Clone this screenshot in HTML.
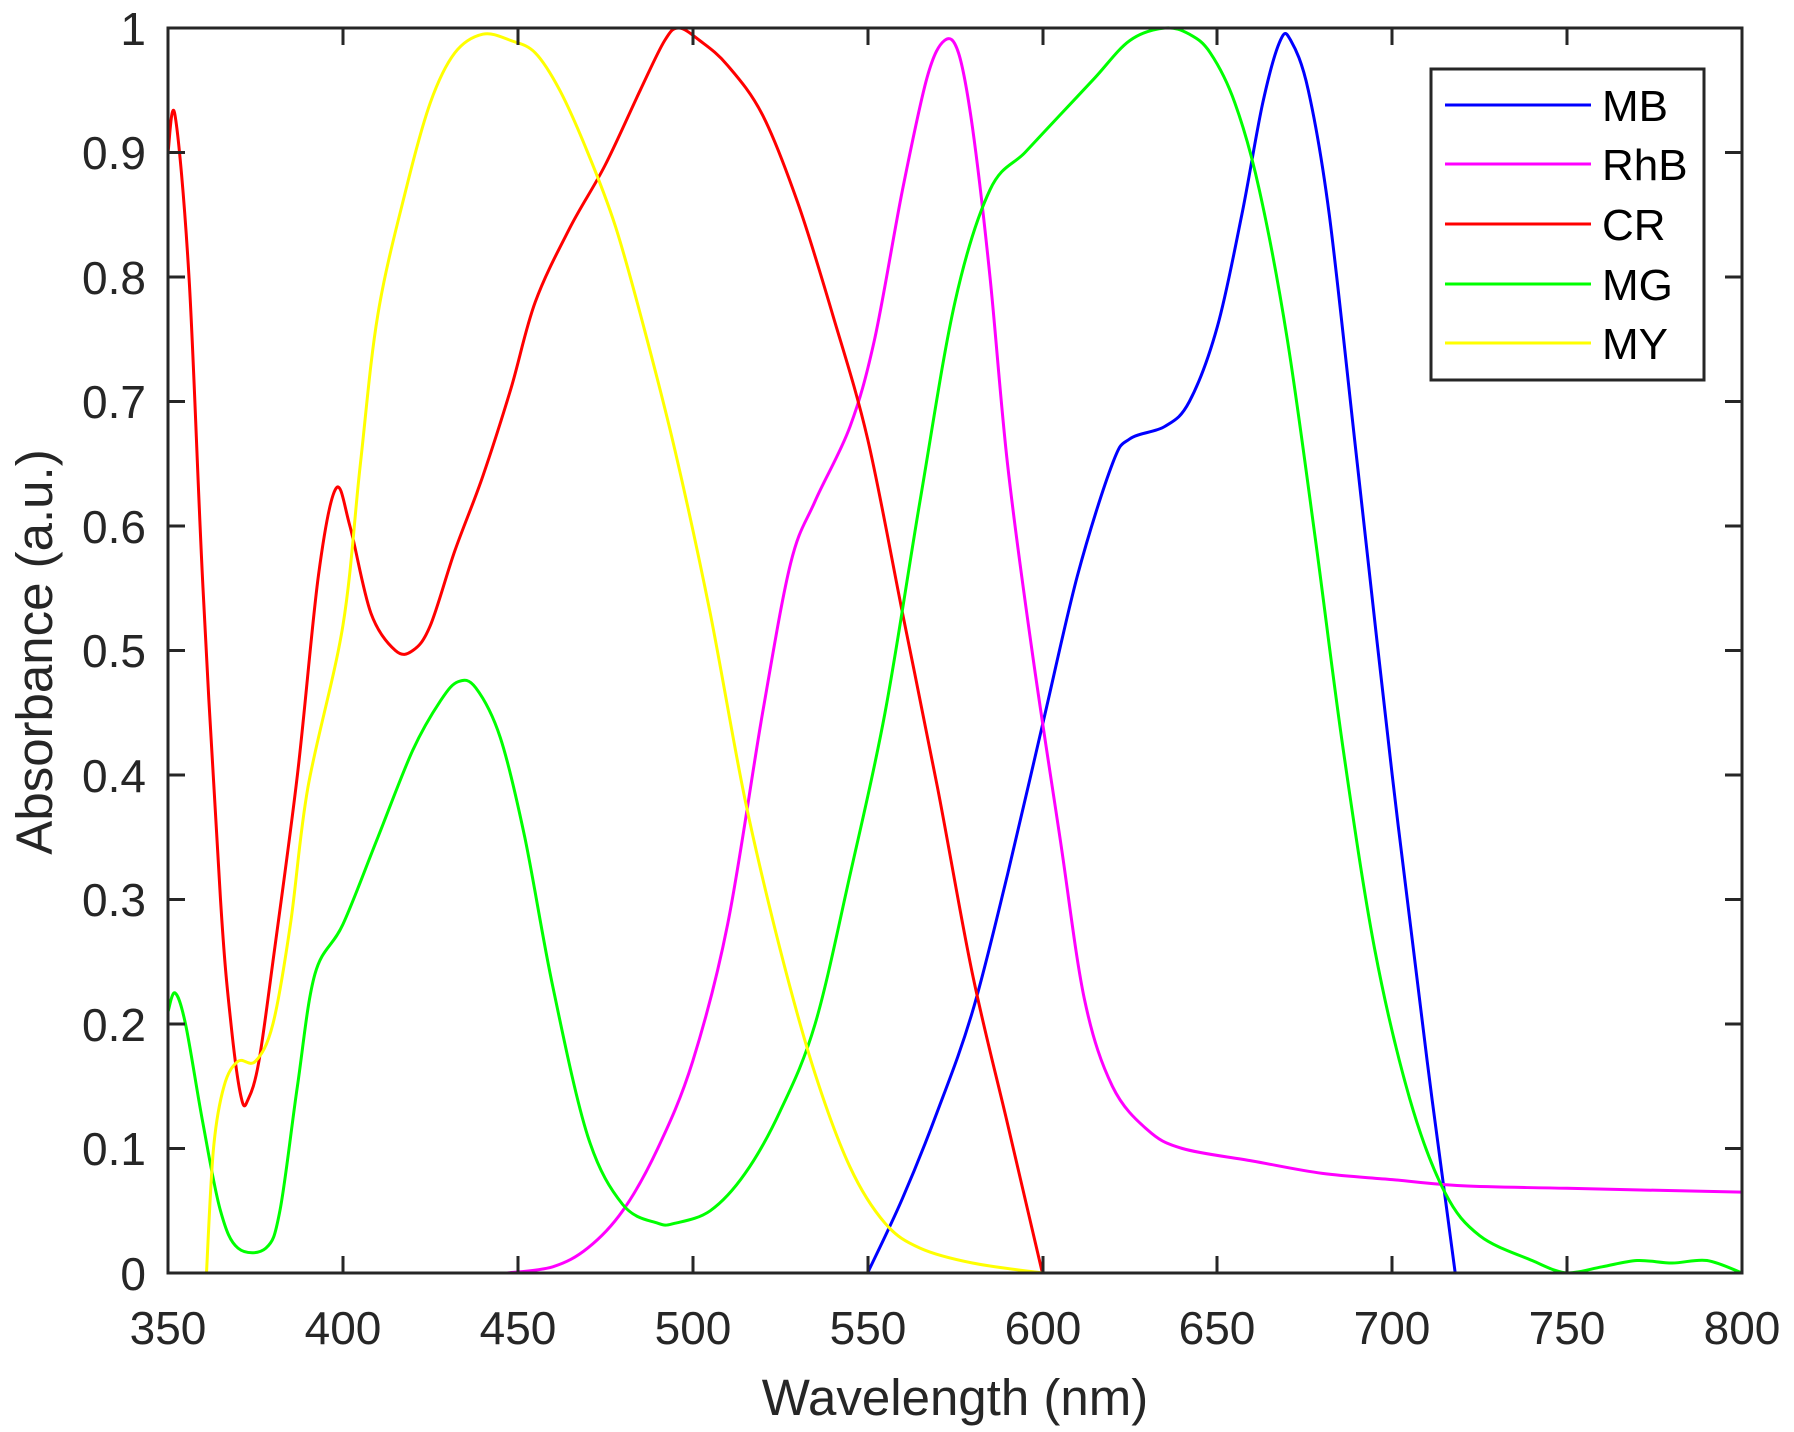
<!DOCTYPE html>
<html><head><meta charset="utf-8"><style>
html,body{margin:0;padding:0;background:#fff;}
svg{display:block;font-family:"Liberation Sans",Arial,sans-serif;}
</style></head><body>
<svg id="s" width="1794" height="1432" viewBox="0 0 1794 1432" xmlns="http://www.w3.org/2000/svg">
<rect width="1794" height="1432" fill="#fff"/>
<g id="curves" fill="none" stroke-width="3" stroke-linejoin="round">
<polyline data-c="#0000ff" stroke="#0000ff" points="200,0 210,0.06 220,0.13 230,0.21 240,0.32 250,0.44 260,0.56 270,0.65 275,0.67 285,0.68 292,0.70 300,0.76 307,0.85 313,0.94 318,0.99 321,0.99 326,0.95 332,0.85 340,0.65 350,0.40 360,0.17 368,0"/>
<polyline stroke="#ff00ff" points="97,0 110,0.005 120,0.02 130,0.05 140,0.10 150,0.17 160,0.28 170,0.45 178,0.57 185,0.62 195,0.68 202,0.75 210,0.87 217,0.96 222,0.99 226,0.98 230,0.92 235,0.80 240,0.65 247,0.50 255,0.35 262,0.22 270,0.15 280,0.115 290,0.10 310,0.09 330,0.08 350,0.075 370,0.07 400,0.068 450,0.065"/>
<polyline stroke="#ff0000" points="0,0.90 2,0.93 6,0.80 10,0.55 15,0.30 18,0.20 21,0.14 23,0.14 26,0.17 30,0.25 37,0.40 43,0.56 48,0.63 52,0.60 58,0.53 65,0.50 70,0.50 75,0.52 82,0.58 90,0.64 98,0.71 105,0.78 115,0.84 125,0.89 135,0.95 142,0.99 146,1.0 152,0.99 160,0.97 170,0.93 180,0.86 190,0.77 200,0.67 210,0.53 220,0.39 230,0.24 240,0.12 250,0"/>
<polyline stroke="#00ff00" points="0,0.21 2,0.225 5,0.20 10,0.12 15,0.05 20,0.02 28,0.02 32,0.05 37,0.15 42,0.24 50,0.28 60,0.35 70,0.42 78,0.46 83,0.475 88,0.47 95,0.43 102,0.35 110,0.23 120,0.11 130,0.055 140,0.04 145,0.04 155,0.05 165,0.08 175,0.13 185,0.20 195,0.32 205,0.45 215,0.62 225,0.78 235,0.87 245,0.90 255,0.93 265,0.96 275,0.99 285,1.0 292,0.995 298,0.98 305,0.94 312,0.87 320,0.75 328,0.59 336,0.42 345,0.26 355,0.14 365,0.065 375,0.03 390,0.01 400,0.0 410,0.005 420,0.01 430,0.008 440,0.01 450,0"/>
<polyline stroke="#ffff00" points="11,0 13,0.1 16,0.15 20,0.17 25,0.17 30,0.20 35,0.28 40,0.39 50,0.52 55,0.65 60,0.77 68,0.87 75,0.94 82,0.98 90,0.995 98,0.99 105,0.98 112,0.95 120,0.90 128,0.84 136,0.76 145,0.66 155,0.53 165,0.38 175,0.26 185,0.16 195,0.085 205,0.04 215,0.02 230,0.008 250,0"/>
</g>
<g stroke="#262626" stroke-width="3" fill="none">
<rect x="168" y="28" width="1574" height="1245"/>
<path d="M343,1273v-17M518,1273v-17M693,1273v-17M868,1273v-17M1043,1273v-17M1217,1273v-17M1392,1273v-17M1567,1273v-17
M343,28v17M518,28v17M693,28v17M868,28v17M1043,28v17M1217,28v17M1392,28v17M1567,28v17
M168,1148.5h17M168,1024h17M168,899.5h17M168,775h17M168,650.5h17M168,526h17M168,401.5h17M168,277h17M168,152.5h17
M1742,1148.5h-17M1742,1024h-17M1742,899.5h-17M1742,775h-17M1742,650.5h-17M1742,526h-17M1742,401.5h-17M1742,277h-17M1742,152.5h-17"/>
</g>
<g fill="#262626" font-size="46" text-anchor="middle">
<text x="168" y="1344">350</text><text x="343" y="1344">400</text><text x="518" y="1344">450</text><text x="693" y="1344">500</text><text x="868" y="1344">550</text><text x="1043" y="1344">600</text><text x="1217" y="1344">650</text><text x="1392" y="1344">700</text><text x="1567" y="1344">750</text><text x="1742" y="1344">800</text>
</g>
<g fill="#262626" font-size="46" text-anchor="end">
<text x="146" y="1290">0</text><text x="146" y="1165">0.1</text><text x="146" y="1041">0.2</text><text x="146" y="916">0.3</text><text x="146" y="792">0.4</text><text x="146" y="667">0.5</text><text x="146" y="543">0.6</text><text x="146" y="418">0.7</text><text x="146" y="294">0.8</text><text x="146" y="169">0.9</text><text x="146" y="45">1</text>
</g>
<text x="955" y="1415" fill="#262626" font-size="51" text-anchor="middle">Wavelength (nm)</text>
<text transform="translate(52,652) rotate(-90)" fill="#262626" font-size="51" text-anchor="middle">Absorbance (a.u.)</text>
<rect x="1431" y="69" width="273" height="311" fill="#fff" stroke="#262626" stroke-width="3"/>
<g stroke-width="3">
<line x1="1445" y1="105" x2="1591" y2="105" stroke="#0000ff"/>
<line x1="1445" y1="164" x2="1591" y2="164" stroke="#ff00ff"/>
<line x1="1445" y1="224" x2="1591" y2="224" stroke="#ff0000"/>
<line x1="1445" y1="284" x2="1591" y2="284" stroke="#00ff00"/>
<line x1="1445" y1="343" x2="1591" y2="343" stroke="#ffff00"/>
</g>
<g fill="#000" font-size="44">
<text x="1602" y="121">MB</text><text x="1602" y="180">RhB</text><text x="1602" y="240">CR</text><text x="1602" y="300">MG</text><text x="1602" y="359">MY</text>
</g>
</svg>
<script>
(function(){
var NS="http://www.w3.org/2000/svg";
var pls=document.querySelectorAll("#curves polyline");
pls.forEach(function(pl){
  var pts=pl.getAttribute("points").trim().split(/\s+/).map(function(s){var a=s.split(",");return [168+(+a[0])*3.4978,1273-(+a[1])*1245];});
  var d="M"+pts[0][0].toFixed(1)+","+pts[0][1].toFixed(1);
  for(var i=0;i<pts.length-1;i++){
    var p0=pts[i-1]||pts[i],p1=pts[i],p2=pts[i+1],p3=pts[i+2]||p2;
    var c1x=p1[0]+(p2[0]-p0[0])/6,c1y=p1[1]+(p2[1]-p0[1])/6;
    var c2x=p2[0]-(p3[0]-p1[0])/6,c2y=p2[1]-(p3[1]-p1[1])/6;
    c1y=Math.min(c1y,1273);c2y=Math.min(c2y,1273);
    d+="C"+c1x.toFixed(1)+","+c1y.toFixed(1)+" "+c2x.toFixed(1)+","+c2y.toFixed(1)+" "+p2[0].toFixed(1)+","+p2[1].toFixed(1);
  }
  var p=document.createElementNS(NS,"path");
  p.setAttribute("d",d);p.setAttribute("stroke",pl.getAttribute("stroke"));
  pl.parentNode.replaceChild(p,pl);
});
})();
</script>
</body></html>
